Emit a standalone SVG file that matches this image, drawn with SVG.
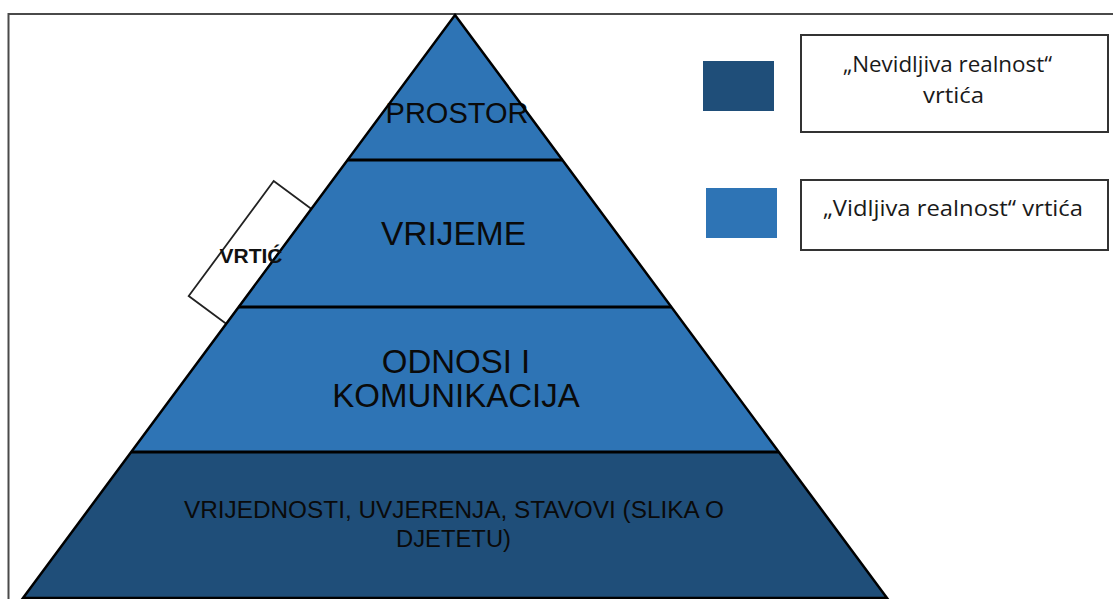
<svg xmlns="http://www.w3.org/2000/svg" width="1113" height="599" viewBox="0 0 1113 599">
<style>
.frame{fill:none;stroke:#4a4a4a;stroke-width:2}
.light{fill:#2E74B5}
.dark{fill:#1F4E79}
.edge{fill:none;stroke:#000;stroke-width:2.5;stroke-linejoin:miter}
.div{stroke:#000;stroke-width:3}
.pt{font-family:"Liberation Sans",Arial,sans-serif;fill:#0a0a0a;text-anchor:middle}
.lg{font-family:"Open Sans","Noto Sans",sans-serif;fill:#1a1a1a;font-size:22px}
.box{fill:#fff;stroke:#333;stroke-width:2}
</style>
<g id="frame">
<polyline class="frame" points="1113,14 8.5,14 8.5,599"/>
</g>
<g id="vrtic-tab">
<polygon points="311.5,209 273.7,181 188.7,296 226.5,324" fill="#fff" stroke="#222" stroke-width="1.8"/>
</g>
<g id="pyramid">
<g id="level-prostor">
<polygon class="light" points="455,15 562.4,160 347.6,160"/>
<text class="pt" x="457" y="123" font-size="29">PROSTOR</text>
</g>
<g id="level-vrijeme">
<polygon class="light" points="347.6,160 562.4,160 671.2,307 238.8,307"/>
<text class="pt" x="453.5" y="245" font-size="33.5">VRIJEME</text>
</g>
<g id="level-odnosi">
<polygon class="light" points="238.8,307 671.2,307 778.6,452 131.4,452"/>
<text class="pt" x="456" y="373" font-size="33">ODNOSI I</text>
<text class="pt" x="456" y="407" font-size="33">KOMUNIKACIJA</text>
</g>
<g id="level-vrijednosti">
<polygon class="dark" points="131.4,452 778.6,452 887,598 23,598"/>
<text class="pt" x="454" y="518" font-size="23" textLength="540" lengthAdjust="spacingAndGlyphs">VRIJEDNOSTI, UVJERENJA, STAVOVI (SLIKA O</text>
<text class="pt" x="453.5" y="547" font-size="23" textLength="115" lengthAdjust="spacingAndGlyphs">DJETETU)</text>
</g>
<polygon class="edge" points="455,15 887,598 23,598"/>
<line class="div" x1="347.6" y1="160" x2="562.4" y2="160"/>
<line class="div" x1="238.8" y1="307" x2="671.2" y2="307"/>
<line class="div" x1="131.4" y1="452" x2="778.6" y2="452"/>
</g>
<g id="vrtic-label">
<text x="251" y="263" font-family="Liberation Sans,Arial,sans-serif" font-weight="bold" font-size="21" fill="#111" text-anchor="middle">VRTIĆ</text>
</g>
<g id="legend-nevidljiva">
<rect class="dark" x="703" y="61" width="71" height="50"/>
<rect class="box" x="801" y="35" width="307" height="97"/>
<text class="lg" x="843" y="72" textLength="209" lengthAdjust="spacingAndGlyphs">„Nevidljiva realnost“</text>
<text class="lg" x="923" y="103" textLength="61" lengthAdjust="spacingAndGlyphs">vrtića</text>
</g>
<g id="legend-vidljiva">
<rect class="light" x="706" y="188" width="71" height="50"/>
<rect class="box" x="801" y="180" width="307" height="70"/>
<text class="lg" x="823" y="216" textLength="260" lengthAdjust="spacingAndGlyphs">„Vidljiva realnost“ vrtića</text>
</g>
</svg>
